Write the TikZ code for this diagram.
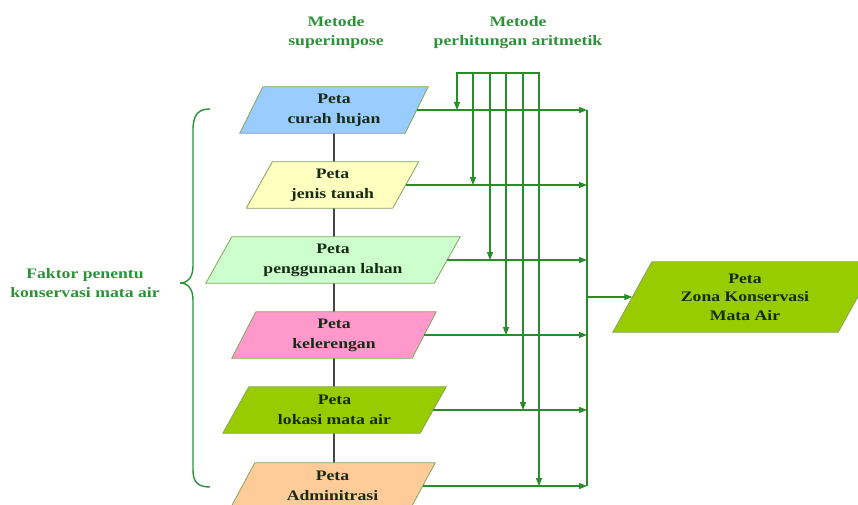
\documentclass[tikz,border=0pt]{standalone}
\usepackage{fontspec}
\newfontfamily\dfont{Liberation Serif}[FakeStretch=1.22]
\usetikzlibrary{arrows.meta,backgrounds}
\definecolor{lgreen}{RGB}{40,140,40}
\definecolor{lblgreen}{RGB}{45,145,55}
\definecolor{boxtext}{RGB}{22,42,22}
\definecolor{boxborder}{RGB}{130,165,90}
\definecolor{darkline}{RGB}{70,70,70}
\definecolor{cblue}{RGB}{153,204,255}
\definecolor{cyellow}{RGB}{255,255,192}
\definecolor{clgreen}{RGB}{204,255,204}
\definecolor{cpink}{RGB}{255,153,204}
\definecolor{colive}{RGB}{153,204,0}
\definecolor{cpeach}{RGB}{255,204,153}
\newcommand\parabox[3]{%
  \draw[shp, fill=#3] ([xshift=-#2]#1.south west) -- ([xshift=#2]#1.north west)
    -- ([xshift=#2]#1.north east) -- ([xshift=-#2]#1.south east) -- cycle;}
\begin{document}
\begin{tikzpicture}[x=1pt,y=-1pt,
  txt/.style={inner sep=0pt, align=center, font=\dfont\bfseries\fontsize{14.5}{20}\selectfont, text=boxtext},
  lbl/.style={inner sep=0pt, align=center, font=\dfont\bfseries\fontsize{14.5}{19}\selectfont, text=lblgreen},
  shp/.style={draw=boxborder, line width=0.8pt},
  conn/.style={draw=lgreen, line width=1.2pt},
  arr/.style={conn, -{Triangle[length=8pt,width=6pt]}},
  bracestyle/.style={draw=lblgreen, line width=1.4pt},
  dline/.style={draw=darkline, line width=1.2pt}
]
\clip (0,0) rectangle (858,505);

% box texts
\node[txt, minimum width=165pt, minimum height=46pt] (c1) at (334,110) {Peta\\curah hujan};
\node[txt, minimum width=146pt, minimum height=46pt] (c2) at (332.5,185) {Peta\\jenis tanah};
\node[txt, minimum width=228pt, minimum height=46pt] (c3) at (333,260) {Peta\\penggunaan lahan};
\node[txt, minimum width=180pt, minimum height=46pt] (c4) at (334,335) {Peta\\kelerengan};
\node[txt, minimum width=197pt, minimum height=46pt] (c5) at (334.5,410) {Peta\\lokasi mata air};
\node[txt, minimum width=180pt, minimum height=46pt] (c6) at (332.5,486) {Peta\\Adminitrasi};
\node[txt, font=\dfont\bfseries\fontsize{14.5}{18.5}\selectfont, minimum width=225pt, minimum height=70pt] (out) at (745,297) {Peta\\Zona Konservasi\\Mata Air};

\begin{scope}[on background layer]
  \draw[dline] (c1) -- (c1 |- c6);
  \parabox{c1}{11.5pt}{cblue}
  \parabox{c2}{13pt}{cyellow}
  \parabox{c3}{13pt}{clgreen}
  \parabox{c4}{12pt}{cpink}
  \parabox{c5}{13pt}{colive}
  \parabox{c6}{12.5pt}{cpeach}
  \parabox{out}{19.5pt}{colive}
\end{scope}

% labels
\node[lbl] (m1) at (336,32.5) {Metode\\superimpose};
\node[lbl] (m2) at (518,32.5) {Metode\\perhitungan aritmetik};
\node[lbl] (fk) at (85,283) {Faktor penentu\\konservasi mata air};

% collector
\coordinate (col1) at (587,110);
\coordinate (col6) at (587,486);
\draw[conn] (col1) -- (col6);
\foreach \i in {1,...,6} { \draw[arr] (c\i.east) -- (c\i.east -| col1); }

% arithmetic bar
\coordinate (t1) at (457,73);
\coordinate (t2) at (473,73);
\coordinate (t3) at (490,73);
\coordinate (t4) at (506,73);
\coordinate (t5) at (523,73);
\coordinate (t6) at (539,73);
\draw[conn, line cap=rect] (t1) -- (t6);
\foreach \i in {1,...,6} { \draw[arr] (t\i) -- (t\i |- c\i.east); }

% to output
\coordinate (mid) at (587,297);
\draw[arr] (mid) -- (out.west);

% brace
\draw[bracestyle] (210,109) .. controls (198,109) and (193,115) .. (193,130)
  -- (193,266) .. controls (193,277) and (188,283) .. (180,283)
  .. controls (188,283) and (193,289) .. (193,300)
  -- (193,470) .. controls (193,482) and (198,487) .. (210,487);
\end{tikzpicture}
\end{document}
